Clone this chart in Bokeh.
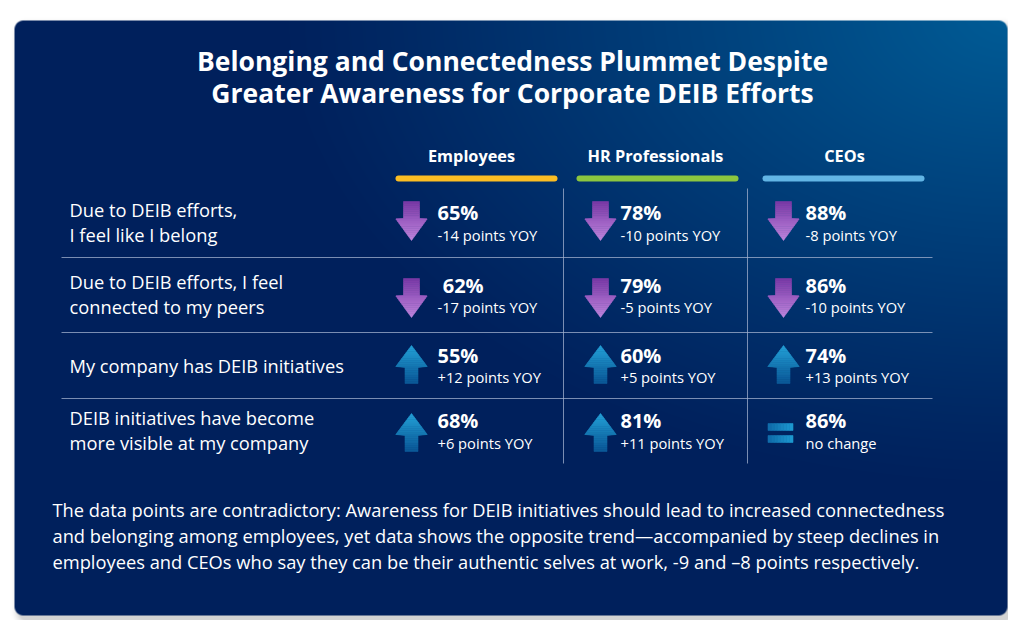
import numpy as np
from bokeh.plotting import figure
from bokeh.models import Range1d
from bokeh.core.properties import value
from bokeh.embed import file_html
from bokeh.resources import INLINE

# ---------------- data ----------------
title_lines = ["Belonging and Connectedness Plummet Despite",
               "Greater Awareness for Corporate DEIB Efforts"]
groups = ["Employees", "HR Professionals", "CEOs"]
group_colors = ["#fbbd23", "#8cc63f", "#62b5e5"]
statements = [["Due to DEIB efforts,", "I feel like I belong"],
              ["Due to DEIB efforts, I feel", "connected to my peers"],
              ["My company has DEIB initiatives"],
              ["DEIB initiatives have become", "more visible at my company"]]
values = [[65, 78, 88], [62, 79, 86], [55, 60, 74], [68, 81, 86]]
value_labels = [["65%", "78%", "88%"], ["\u00a062%", "79%", "86%"],
                ["55%", "60%", "74%"], ["68%", "81%", "86%"]]
changes = [[-14, -10, -8], [-17, -5, -10], [12, 5, 13], [6, 11, 0]]
footer_lines = [
    "The data points are contradictory: Awareness for DEIB initiatives should lead to increased connectedness",
    "and belonging among employees, yet data shows the opposite trend\u2014accompanied by steep declines in",
    "employees and CEOs who say they can be their authentic selves at work, -9 and \u20138 points respectively.",
]

# ---------------- layout (screen px) ----------------
W, H = 1008, 620
FONT = "Open Sans"


def Y(sy):          # screen y -> data y for shapes
    return H - sy


def YT(sy):         # screen y -> data y for text baselines
    return H + 8 - sy


p = figure(width=W, height=H, x_range=Range1d(0, W), y_range=Range1d(0, H),
           output_backend="svg", toolbar_location=None,
           x_axis_location=None, y_axis_location=None, min_border=0)
p.grid.visible = False
p.outline_line_color = None
p.background_fill_color = "white"
p.border_fill_color = "white"

# ---------------- background card (gradient + shadow) ----------------
yy, xx = np.mgrid[0:H, 0:W].astype(float)
sx = xx + 0.5
sy = yy + 0.5


def rrect_sdf(px, py, x0, y0, x1, y1, r):
    cx, cy = (x0 + x1) / 2, (y0 + y1) / 2
    bx, by = (x1 - x0) / 2, (y1 - y0) / 2
    qx = np.abs(px - cx) - bx + r
    qy = np.abs(py - cy) - by + r
    outside = np.hypot(np.maximum(qx, 0), np.maximum(qy, 0))
    inside = np.minimum(np.maximum(qx, qy), 0)
    return outside + inside - r


card = (14, 20, 1007, 615)
d_card = rrect_sdf(sx, sy, *card, 9)
a_card = np.clip(0.5 - d_card, 0, 1)
d_sh = rrect_sdf(sx, sy, card[0] + 4, card[1] + 5, card[2] + 4, card[3] + 6, 10)
a_sh = np.clip(1 - (d_sh + 1) / 9, 0, 1) ** 1.6 * 0.30

dx = (sx - 1010) / 1.0
dy = (sy - 15) * 1.55
t = np.clip(1 - np.hypot(dx, dy) / 740, 0, 1) ** 1.1
dark = np.array([0, 32, 92], float)
light = np.array([0, 92, 150], float)
grad = dark[None, None, :] + (light - dark)[None, None, :] * t[..., None]

rgb = np.full((H, W, 3), 255.0)
shadow_col = np.array([110, 110, 110], float)
rgb = rgb * (1 - a_sh[..., None]) + shadow_col * a_sh[..., None]
rgb = rgb * (1 - a_card[..., None]) + grad * a_card[..., None]

img = np.empty((H, W), dtype=np.uint32)
view = img.view(dtype=np.uint8).reshape((H, W, 4))
view[..., :3] = np.clip(rgb, 0, 255).astype(np.uint8)
view[..., 3] = 255
img = np.flipud(img)
p.image_rgba(image=[img], x=0, y=0, dw=W, dh=H)

# ---------------- title ----------------
p.text(x=[512, 512], y=[YT(68), YT(100)], text=title_lines,
       text_font=value(FONT), text_font_style="bold", text_font_size=value("26.5px"),
       text_color="white", text_align="center", text_baseline="alphabetic")

# ---------------- headers ----------------
header_cx = [471, 655, 844]
bar_x = [(395, 557), (576, 738), (762, 924)]
p.text(x=header_cx, y=[YT(163)] * 3, text=groups,
       text_font=value(FONT), text_font_style="bold", text_font_size=value("16.3px"),
       text_color="white", text_align="center", text_baseline="alphabetic")
p.segment(x0=[b[0] + 3 for b in bar_x], x1=[b[1] - 3 for b in bar_x],
          y0=[Y(178)] * 3, y1=[Y(178)] * 3, line_color=group_colors,
          line_width=6, line_cap="round")

# ---------------- grid lines ----------------
sep_col = "#a3b1cf"
p.segment(x0=[61] * 3, x1=[932] * 3, y0=[Y(257), Y(332), Y(398)], y1=[Y(257), Y(332), Y(398)],
          line_color=sep_col, line_alpha=0.75, line_width=1)
p.segment(x0=[563, 747], x1=[563, 747], y0=[Y(188)] * 2, y1=[Y(463)] * 2,
          line_color=sep_col, line_alpha=0.75, line_width=1)

# ---------------- row labels ----------------
label_baselines = [[217, 242], [289, 314], [373], [425, 450]]
lx, ly, lt = [], [], []
for lines, bls in zip(statements, label_baselines):
    for s, b in zip(lines, bls):
        lx.append(69)
        ly.append(YT(b))
        lt.append(s)
p.text(x=lx, y=ly, text=lt, text_font=value(FONT), text_font_size=value("18.3px"),
       text_color="white", text_baseline="alphabetic")

# ---------------- arrows ----------------
arrow_cx = [411, 600, 783]
arrow_top = [201, 278, 345, 413]
val_x = [437, 620, 805]
val_base = [220, 293, 363, 428]
sub_base = [242, 314, 384, 450]


def hex2rgb(h):
    h = h.lstrip("#")
    return np.array([int(h[i:i + 2], 16) for i in (0, 2, 4)], float)


def mix(c0, c1, f):
    c = hex2rgb(c0) + (hex2rgb(c1) - hex2rgb(c0)) * f
    return "#%02x%02x%02x" % tuple(int(round(v)) for v in c)


polys_x, polys_y, polys_c = [], [], []


def add_arrow(cx, top, down):
    if down:
        total, head_start, hw_shaft, hw_head = 39.0, 17.0, 8.0, 16.0
        c0, c1 = "#7a38a6", "#c086de"
    else:
        total, head_start, hw_shaft, hw_head = 38.0, 22.0, 6.5, 16.5
        c0, c1 = "#24a2d8", "#0a5796"

    def halfw(u):  # u: distance from top along arrow
        if down:
            if u <= head_start:
                return hw_shaft
            return hw_head * (1 - (u - head_start) / (total - head_start))
        if u >= head_start:
            return hw_shaft
        return hw_head * (u / head_start)

    brk = sorted(set(list(np.linspace(0, total, 21)) + [head_start]))
    for a, b in zip(brk[:-1], brk[1:]):
        if down:
            wa = hw_shaft if a < head_start else halfw(a)
            wb = hw_shaft if b <= head_start else halfw(b)
        else:
            wa = halfw(a) if a < head_start else hw_shaft
            wb = halfw(b) if b <= head_start else hw_shaft
        ya, yb = top + a, top + b
        polys_x.append([cx - wa, cx + wa, cx + wb, cx - wb])
        polys_y.append([Y(ya), Y(ya), Y(yb), Y(yb)])
        polys_c.append(mix(c0, c1, ((a + b) / 2) / total))


def add_equal(cx, top):
    c0, c1 = "#0f6aa8", "#1d9ad2"
    n = 8
    for k in range(n):
        xa = cx - 12.5 + 25 * k / n
        xb = cx - 12.5 + 25 * (k + 1) / n
        col = mix(c0, c1, (k + 0.5) / n)
        for y0, y1 in ((top + 10, top + 17), (top + 22, top + 29)):
            polys_x.append([xa, xb, xb, xa])
            polys_y.append([Y(y0), Y(y0), Y(y1), Y(y1)])
            polys_c.append(col)


vx, vy, vt, sxl, syl, stl = [], [], [], [], [], []
for r in range(len(values)):
    for c in range(len(groups)):
        ch = changes[r][c]
        if ch < 0:
            add_arrow(arrow_cx[c], arrow_top[r], True)
        elif ch > 0:
            add_arrow(arrow_cx[c], arrow_top[r], False)
        else:
            add_equal(arrow_cx[c] - 3, arrow_top[r])
        vx.append(val_x[c])
        vy.append(YT(val_base[r]))
        vt.append(value_labels[r][c])
        sxl.append(val_x[c])
        syl.append(YT(sub_base[r]))
        stl.append("no change" if ch == 0 else f"{ch:+d} points YOY")

p.patches(xs=polys_x, ys=polys_y, fill_color=polys_c, line_color=polys_c, line_width=0.6)

p.text(x=vx, y=vy, text=vt, text_font=value(FONT), text_font_style="bold",
       text_font_size=value("20px"), text_color="white", text_baseline="alphabetic")
p.text(x=sxl, y=syl, text=stl, text_font=value(FONT), text_font_size=value("14.7px"),
       text_color="white", text_baseline="alphabetic")

# ---------------- footer ----------------
p.text(x=[52] * 3, y=[YT(517), YT(543), YT(569)], text=footer_lines,
       text_font=value(FONT), text_font_size=value("18.3px"), text_color="white",
       text_baseline="alphabetic")

open("out.html", "w").write(file_html(p, INLINE))
